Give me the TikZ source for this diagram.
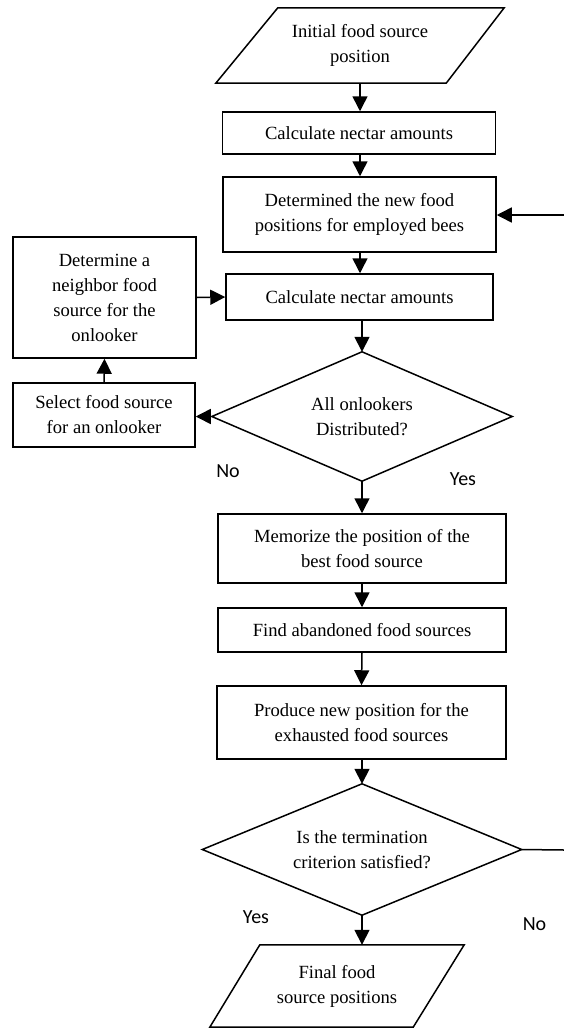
\documentclass[tikz,border=0pt]{standalone}
\usepackage{fontspec}
\setmainfont{Liberation Serif}
\newfontfamily\lblfont{Carlito}
\usetikzlibrary{shapes.geometric,arrows.meta,calc}
\begin{document}
\begin{tikzpicture}[x=1pt,y=-1pt,
  every node/.style={font=\fontsize{18.6}{25}\selectfont, align=center},
  box/.style={draw, line width=1.5pt, rectangle, inner sep=2pt},
  dec/.style={rectangle, inner sep=0pt},
  io/.style={inner sep=0pt},
  arr/.style={line width=1.5pt, -{Triangle[length=15pt,width=15pt]}},
  ln/.style={line width=1.5pt, line join=miter},
  lbl/.style={font=\lblfont\fontsize{20}{24}\selectfont}
]
\useasboundingbox (0,0) rectangle (564,1028);

% top input
\node[io, minimum width=288, minimum height=75] (p1) at (360,45.5) {Initial food source\\position};
\draw[ln] ($(p1.north west)+(62,0)$) -- (p1.north east) -- ($(p1.south east)+(-58,0)$) -- (p1.south west) -- cycle;

\node[box, minimum width=273, minimum height=42] (b1) at (359,133) {Calculate nectar amounts};
\node[box, minimum width=273, minimum height=75] (b2) at (359.5,214.5) {Determined the new food\\positions for employed bees};
\node[box, minimum width=267, minimum height=46] (b3) at (359.5,297) {Calculate nectar amounts};
\node[box, minimum width=183, minimum height=121] (na) at (104.5,297.5) {Determine a\\neighbor food\\source for the\\onlooker};
\node[box, minimum width=182, minimum height=64] (sb) at (104,415) {Select food source\\for an onlooker};
\node[dec, minimum width=300, minimum height=129] (d1) at (362,416.5) {All onlookers\\Distributed?};
\draw[ln] (d1.north) -- (d1.east) -- (d1.south) -- (d1.west) -- cycle;
\node[box, minimum width=288, minimum height=69] (b4) at (362,548.5) {Memorize the position of the\\best food source};
\node[box, minimum width=288, minimum height=44] (b5) at (362,630) {Find abandoned food sources};
\node[box, minimum width=289, minimum height=73] (b6) at (361.5,722.5) {Produce new position for the\\exhausted food sources};
\node[dec, minimum width=319, minimum height=131] (d2) at (362,849.5) {Is the termination\\criterion satisfied?};
\draw[ln] (d2.north) -- (d2.east) -- (d2.south) -- (d2.west) -- cycle;

% final output
\node[io, minimum width=254, minimum height=82] (p2) at (337,986) {Final food\\source positions};
\draw[ln] ($(p2.north west)+(50,0)$) -- (p2.north east) -- ($(p2.south east)+(-51,0)$) -- (p2.south west) -- cycle;

% connectors
\draw[arr] (p1.south) -- (p1.south |- b1.north);
\draw[arr] (b1.south -| p1.south) -- (b2.north -| p1.south);
\draw[arr] (b2.south -| p1.south) -- (b3.north -| p1.south);
\draw[arr] (b3.south -| d1.north) -- (d1.north);
\draw[arr] (na.east) -- (b3.west);
\draw[arr] (sb.north) -- (na.south);
\draw[arr] (d1.west) -- (d1.west -| sb.east);
\draw[arr] (d1.south) -- (b4.north);
\draw[arr] (b4.south) -- (b5.north);
\draw[arr] (b5.south) -- (b6.north);
\draw[arr] (b6.south -| d2.north) -- (d2.north);
\draw[arr] (d2.south) -- (d2.south |- p2.north);
\coordinate (rin) at (564,215);
\coordinate (rout) at (564,850);
\draw[arr] (rin) -- (rin -| b2.east);
\draw[ln] (d2.east) -- (rout);

% labels
\node[lbl] (no1) at (228,471.5) {No};
\node[lbl] (yes1) at (463,479) {Yes};
\node[lbl] (yes2) at (256,917) {Yes};
\node[lbl] (no2) at (534.5,924) {No};
\end{tikzpicture}
\end{document}
